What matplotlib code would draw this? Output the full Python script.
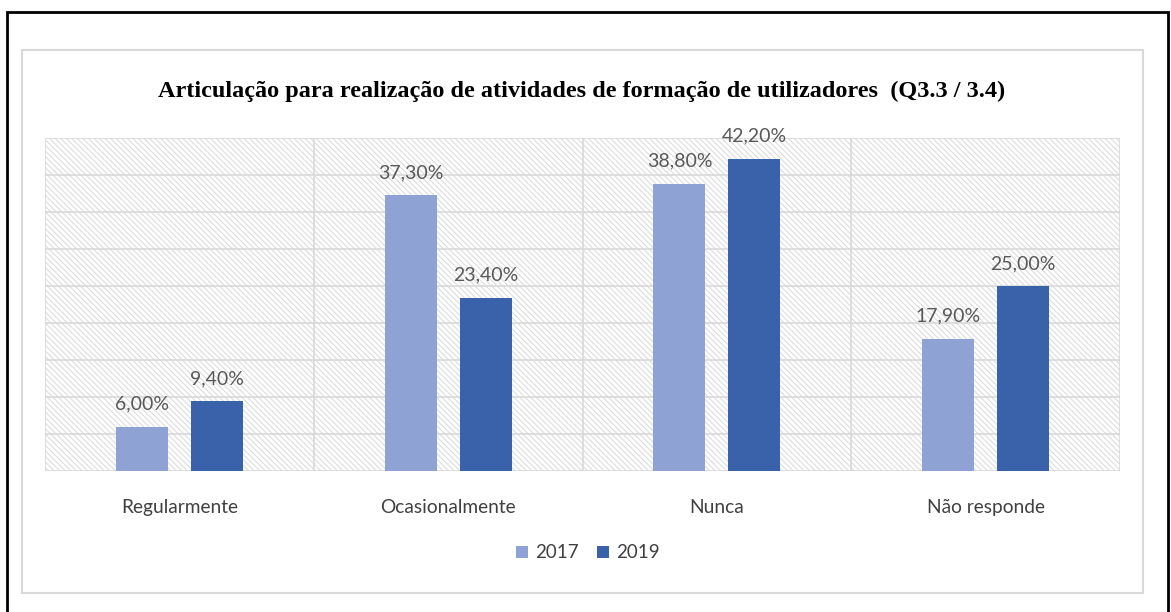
import matplotlib
matplotlib.use("Agg")
import matplotlib.pyplot as plt
from matplotlib.patches import Rectangle
import numpy as np

categories = ["Regularmente", "Ocasionalmente", "Nunca", "Não responde"]
series_names = ["2017", "2019"]
values_2017 = [6.0, 37.3, 38.8, 17.9]
values_2019 = [9.4, 23.4, 42.2, 25.0]
colors = ["#8FA2D4", "#3A62AA"]
title = "Articulação para realização de atividades de formação de utilizadores  (Q3.3 / 3.4)"

plt.rcParams["hatch.linewidth"] = 0.8

W, H = 1171, 612
fig = plt.figure(figsize=(W / 100, H / 100), dpi=100)

# outer black border and inner gray frame
fig.patches.append(Rectangle((7 / W, -0.01), (1168 - 7) / W, (H - 12) / H + 0.01,
                             transform=fig.transFigure, fill=False, edgecolor="black", lw=2))
fig.patches.append(Rectangle((22 / W, (H - 593) / H), (1143 - 22) / W, (593 - 50) / H,
                             transform=fig.transFigure, fill=False, edgecolor="#D9D9D9", lw=1.5))

x0, x1, y0, y1 = 45, 1120, 138, 471
ax = fig.add_axes([x0 / W, (H - y1) / H, (x1 - x0) / W, (y1 - y0) / H])

ncat = len(categories)
ax.set_xlim(0, ncat)
ax.set_ylim(0, 45)

# hatched background
bg = Rectangle((0, 0), ncat, 45, facecolor="white", edgecolor="#DCDCDC",
               hatch="\\" * 6, lw=0, zorder=0)
ax.add_patch(bg)

for yv in np.arange(0, 46, 5):
    ax.axhline(yv, color="#D9D9D9", lw=1.2, zorder=1)
for xv in range(ncat + 1):
    ax.axvline(xv, color="#D9D9D9", lw=1.2, zorder=1)

centers = np.arange(ncat) + 0.5
bw = 52 / 268.75
gap = 23 / 268.75
off = (bw + gap) / 2
for i, (vals, name) in enumerate(zip([values_2017, values_2019], series_names)):
    xs = centers + (-off if i == 0 else off)
    ax.bar(xs, vals, width=bw, color=colors[i], label=name, zorder=2)
    for xx, v in zip(xs, vals):
        ax.text(xx, v + 1.9, f"{v:.2f}%".replace(".", ","), ha="center", va="bottom",
                fontsize=14, color="#595959", family="Lato", zorder=3)

ax.set_xticks(centers)
ax.set_xticklabels(categories, fontsize=13.8, color="#404040", family="Lato")
ax.tick_params(axis="x", length=0, pad=20)
ax.set_yticks([])
for s in ax.spines.values():
    s.set_visible(False)

fig.text(582 / W, (H - 91) / H, title, ha="center", va="center", fontsize=17.5,
         fontweight="bold", family="Liberation Serif", color="black")

leg = fig.legend(loc="center", bbox_to_anchor=(588 / W, (H - 553) / H), ncol=2, frameon=False,
                 prop={"family": "Lato", "size": 13.5}, handlelength=0.6, handleheight=0.6,
                 columnspacing=1.0, handletextpad=0.4)
for t in leg.get_texts():
    t.set_color("#404040")

fig.savefig("out.png", dpi=100)
